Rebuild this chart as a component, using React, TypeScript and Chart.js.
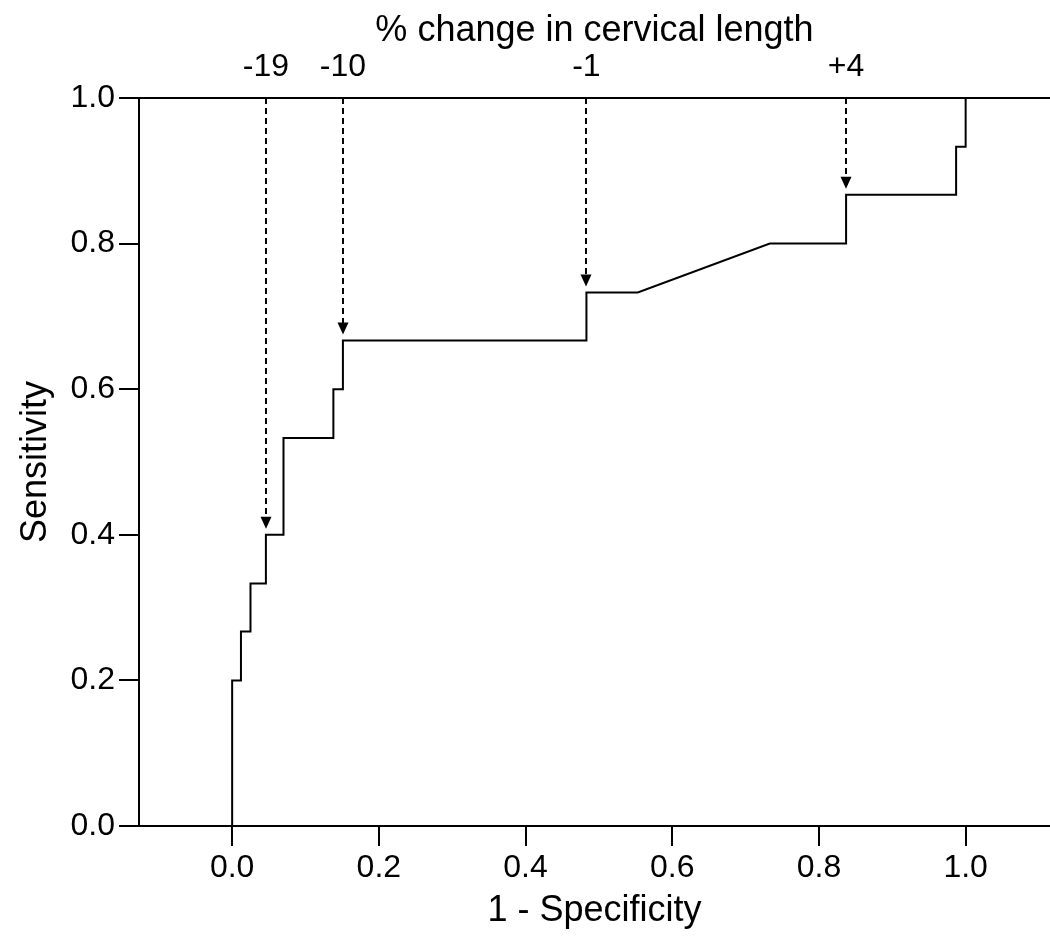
import React, { useEffect, useRef } from "react";
import { Chart, registerables } from "chart.js";

Chart.register(...registerables);

// ROC curve (1 - specificity, sensitivity)
const rocFpr = [0, 0, 0.012, 0.012, 0.025, 0.025, 0.046, 0.046, 0.07, 0.07, 0.138, 0.138, 0.151, 0.151, 0.483, 0.483, 0.553, 0.733, 0.837, 0.837, 0.987, 0.987, 1.0, 1.0];
const rocTpr = [0, 0.2, 0.2, 0.267, 0.267, 0.333, 0.333, 0.4, 0.4, 0.533, 0.533, 0.6, 0.6, 0.667, 0.667, 0.733, 0.733, 0.8, 0.8, 0.867, 0.867, 0.933, 0.933, 1.0];

// cut-off points (% change in cervical length)
const cutoffFpr = [0.046, 0.151, 0.483, 0.837];
const cutoffTpr = [0.4, 0.667, 0.733, 0.867];
const cutoffLabels = ["-19", "-10", "-1", "+4"];

const xTickValues = [0, 0.2, 0.4, 0.6, 0.8, 1.0];
const yTickValues = [0, 0.2, 0.4, 0.6, 0.8, 1.0];
const xMin = -0.127;
const xMax = 1.115;

const FONT = "'Liberation Sans', Arial, sans-serif";

export default function App() {
  const ref = useRef<HTMLCanvasElement>(null);

  useEffect(() => {
    document.body.style.margin = "0";
    const arrowPlugin = {
      id: "cutoffArrows",
      afterDatasetsDraw(chart: any) {
        const { ctx } = chart;
        const xs = chart.scales.x;
        const ys = chart.scales.y;
        ctx.save();
        ctx.strokeStyle = "#000";
        ctx.fillStyle = "#000";
        ctx.lineWidth = 2;
        cutoffFpr.forEach((fx, i) => {
          const px = Math.round(xs.getPixelForValue(fx));
          const top = ys.getPixelForValue(1);
          const tip = ys.getPixelForValue(cutoffTpr[i]) - 6;
          ctx.setLineDash([6, 4]);
          ctx.beginPath();
          ctx.moveTo(px, top);
          ctx.lineTo(px, tip - 11);
          ctx.stroke();
          ctx.setLineDash([]);
          ctx.beginPath();
          ctx.moveTo(px - 5.5, tip - 12);
          ctx.lineTo(px + 5.5, tip - 12);
          ctx.lineTo(px, tip);
          ctx.closePath();
          ctx.fill();
        });
        ctx.restore();
      },
    };

    const tickFont = { family: FONT, size: 32 };
    const titleFont = { family: FONT, size: 36 };

    const chart = new Chart(ref.current as HTMLCanvasElement, {
      type: "scatter",
      data: {
        datasets: [
          {
            data: rocFpr.map((x, i) => ({ x, y: rocTpr[i] })),
            showLine: true,
            borderColor: "#000",
            borderWidth: 2,
            pointRadius: 0,
            fill: false,
            tension: 0,
          } as any,
        ],
      },
      options: {
        animation: false,
        responsive: false,
        layout: { padding: 0 },
        plugins: { legend: { display: false }, tooltip: { enabled: false } },
        scales: {
          x: {
            type: "linear",
            position: "bottom",
            min: xMin,
            max: xMax,
            afterBuildTicks: (s: any) => {
              s.ticks = xTickValues.map((v) => ({ value: v }));
            },
            afterFit: (s: any) => {
              s.height = 115;
            },
            grid: { drawOnChartArea: false, drawTicks: true, tickLength: 20, color: "#000", lineWidth: 2 },
            border: { display: true, color: "#000", width: 2 },
            ticks: {
              padding: 3,
              color: "#000",
              font: tickFont,
              maxRotation: 0,
              autoSkip: false,
              callback: (v: any) => Number(v).toFixed(1),
            },
            title: {
              display: true,
              text: "1 - Specificity",
              color: "#000",
              font: titleFont,
              padding: { top: 0, bottom: 8 },
            },
          },
          xTop: {
            type: "linear",
            position: "top",
            min: xMin,
            max: xMax,
            afterBuildTicks: (s: any) => {
              s.ticks = cutoffFpr.map((v) => ({ value: v }));
            },
            afterFit: (s: any) => {
              s.height = 98;
            },
            grid: { display: false },
            border: { display: true, color: "#000", width: 2 },
            ticks: {
              padding: 4,
              color: "#000",
              font: tickFont,
              maxRotation: 0,
              autoSkip: false,
              callback: (_v: any, i: number) => cutoffLabels[i],
            },
            title: {
              display: true,
              text: "% change in cervical length",
              color: "#000",
              font: titleFont,
              padding: { top: 9, bottom: 0 },
            },
          },
          y: {
            type: "linear",
            position: "left",
            min: 0,
            max: 1,
            afterBuildTicks: (s: any) => {
              s.ticks = yTickValues.map((v) => ({ value: v }));
            },
            afterFit: (s: any) => {
              s.width = 139;
            },
            grid: { drawOnChartArea: false, drawTicks: true, tickLength: 20, color: "#000", lineWidth: 2 },
            border: { display: true, color: "#000", width: 2 },
            ticks: {
              padding: 4,
              color: "#000",
              font: tickFont,
              autoSkip: false,
              callback: (v: any) => Number(v).toFixed(1),
            },
            title: {
              display: true,
              text: "Sensitivity",
              color: "#000",
              font: titleFont,
              padding: { top: 14, bottom: 0 },
            },
          },
        },
      } as any,
      plugins: [arrowPlugin],
    });
    return () => chart.destroy();
  }, []);

  return <canvas ref={ref} width={1050} height={941} style={{ display: "block" }} />;
}
